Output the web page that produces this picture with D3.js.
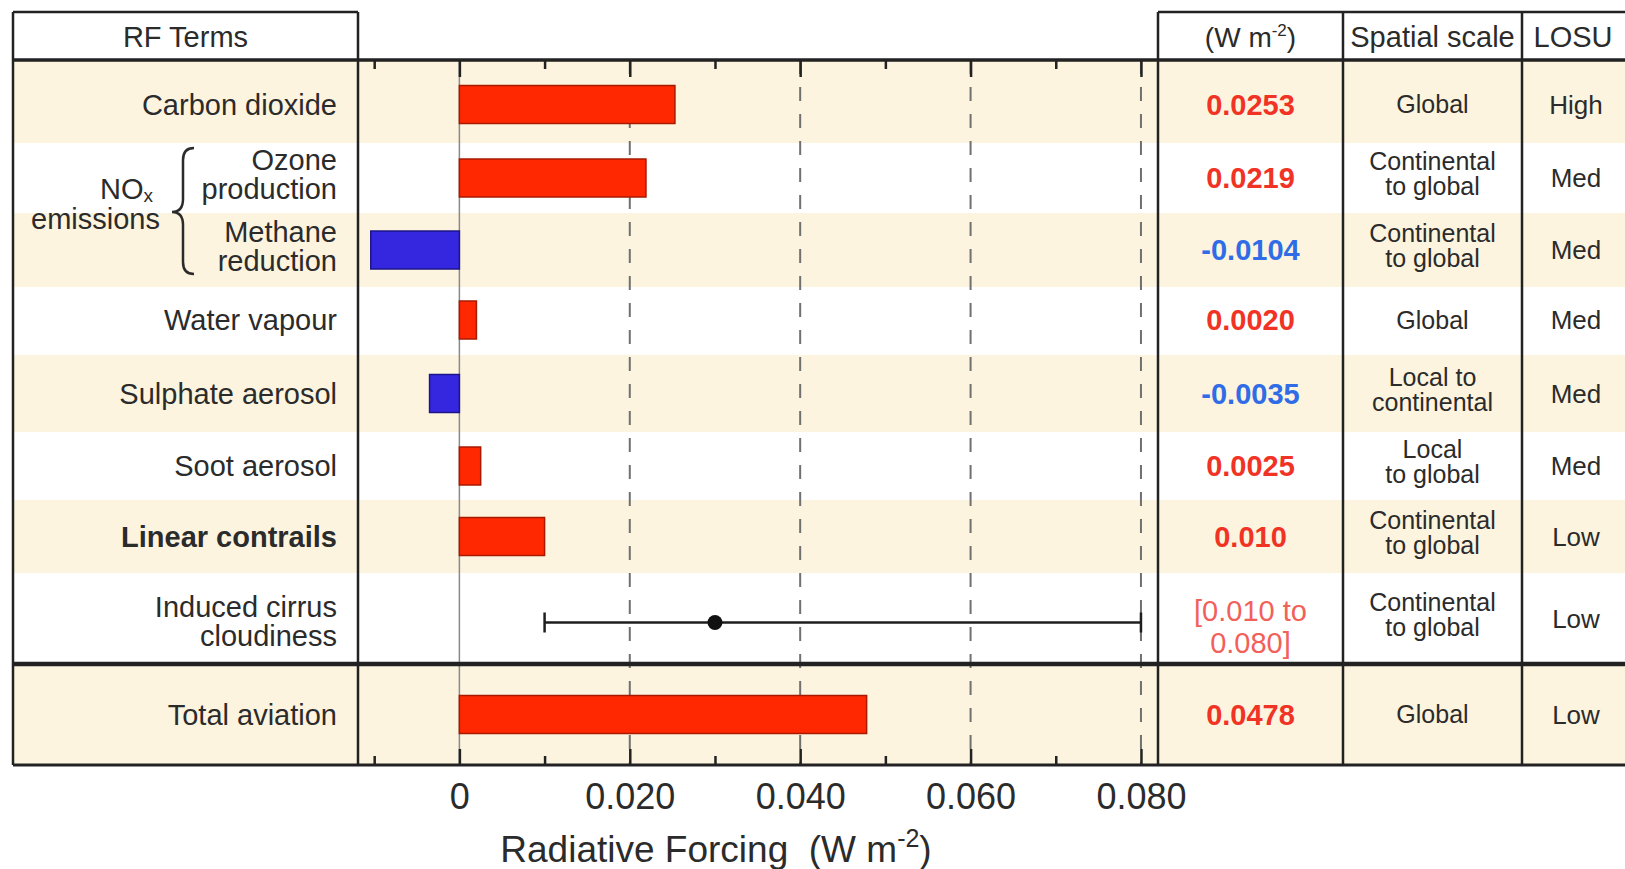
<!DOCTYPE html>
<html lang="en">
  <head>
    <meta charset="UTF-8" />
    <title>Aviation radiative forcing</title>
    <style>
      body { margin: 0; background: #fff; }
      svg text { font-family: "Liberation Sans", Arial, Helvetica, sans-serif; fill: #2b2b2b; }
    </style>
  </head>
  <body>
    <svg id="chart" width="1625" height="869"></svg>

    <script src="https://d3js.org/d3.v7.min.js"></script>
    <script>
      // ---- data ----
      const termLines = [
        ["Carbon dioxide"],
        ["Ozone", "production"],
        ["Methane", "reduction"],
        ["Water vapour"],
        ["Sulphate aerosol"],
        ["Soot aerosol"],
        ["Linear contrails"],
        ["Induced cirrus", "cloudiness"],
        ["Total aviation"],
      ];
      const rfValues = [0.0253, 0.0219, -0.0104, 0.002, -0.0035, 0.0025, 0.01, null, 0.0478];
      const valueLabels = [
        ["0.0253"], ["0.0219"], ["-0.0104"], ["0.0020"], ["-0.0035"],
        ["0.0025"], ["0.010"], ["[0.010 to", "0.080]"], ["0.0478"],
      ];
      const spatialScale = [
        ["Global"],
        ["Continental", "to global"],
        ["Continental", "to global"],
        ["Global"],
        ["Local to", "continental"],
        ["Local", "to global"],
        ["Continental", "to global"],
        ["Continental", "to global"],
        ["Global"],
      ];
      const losu = ["High", "Med", "Med", "Med", "Med", "Med", "Low", "Low", "Low"];
      const cirrusRange = [0.01, 0.08];
      const cirrusBest = 0.03;
      const majorTicks = [0, 0.02, 0.04, 0.06, 0.08];
      const minorTicks = [-0.01, 0.01, 0.03, 0.05, 0.07];

      // ---- layout ----
      const tLeft = 13, tTop = 12, headY = 60, tBottom = 765, tRight = 1640;
      const colLabel = 358, colPlot = 1158, colValue = 1343, colSpatial = 1522;
      const rowHeights = [83, 70, 74, 68, 77, 68, 73, 91, 101];
      const rowShift = [3, 0, 0, -1, 0, 0, 0, 0, 0];
      const rowTops = [headY];
      rowHeights.forEach((h) => rowTops.push(rowTops[rowTops.length - 1] + h));
      const rowMid = (i) => rowTops[i] + rowHeights[i] / 2 + rowShift[i];
      const barH = 38;
      const beige = "#fcf4df";
      const red = "#ff2800", blue = "#3527e0";

      const svg = d3.select("#chart");
      const x = d3.scaleLinear().domain([-0.0119, 0.082]).range([colLabel, colPlot]);

      // row shading
      svg.append("g")
        .selectAll("rect")
        .data(rowHeights)
        .join("rect")
        .attr("x", tLeft)
        .attr("y", (d, i) => rowTops[i])
        .attr("width", tRight - tLeft)
        .attr("height", (d) => d)
        .attr("fill", (d, i) => (i % 2 === 0 ? beige : "#fff"));

      // dashed grid lines
      svg.append("g")
        .selectAll("line")
        .data(majorTicks.filter((d) => d !== 0))
        .join("line")
        .attr("x1", (d) => x(d)).attr("x2", (d) => x(d))
        .attr("y1", headY).attr("y2", tBottom)
        .attr("stroke", "#707070")
        .attr("stroke-width", 2)
        .attr("stroke-dasharray", "14,13");

      // zero line
      svg.append("line")
        .attr("x1", x(0)).attr("x2", x(0))
        .attr("y1", headY).attr("y2", tBottom)
        .attr("stroke", "#8a8a8a")
        .attr("stroke-width", 1.5);

      // bars
      const bars = rfValues.map((v, i) => ({ v, i })).filter((d) => d.v !== null);
      svg.append("g")
        .selectAll("rect")
        .data(bars)
        .join("rect")
        .attr("x", (d) => x(Math.min(0, d.v)))
        .attr("y", (d) => rowMid(d.i) - barH / 2)
        .attr("width", (d) => Math.abs(x(d.v) - x(0)))
        .attr("height", barH)
        .attr("fill", (d) => (d.v < 0 ? blue : red))
        .attr("stroke", (d) => (d.v < 0 ? "#1c1488" : "#a81a00"))
        .attr("stroke-width", 1.5);

      // induced cirrus range
      const ey = rowMid(7) + 4;
      const eg = svg.append("g").attr("stroke", "#1e1e1e").attr("stroke-width", 2.5);
      eg.append("line").attr("x1", x(cirrusRange[0])).attr("x2", x(cirrusRange[1])).attr("y1", ey).attr("y2", ey);
      cirrusRange.forEach((v) => {
        eg.append("line").attr("x1", x(v)).attr("x2", x(v)).attr("y1", ey - 10).attr("y2", ey + 10);
      });
      svg.append("circle").attr("cx", x(cirrusBest)).attr("cy", ey).attr("r", 7.5).attr("fill", "#111");

      // axes (ticks point into the plot)
      const fmt = (d) => (d === 0 ? "0" : d3.format(".3f")(d));
      const styleAxis = (g) => {
        g.select(".domain").remove();
        g.selectAll(".tick line").attr("stroke", "#222").attr("stroke-width", 2.5);
        g.selectAll(".tick text").attr("font-size", 36).attr("fill", "#333");
      };
      svg.append("g").attr("transform", `translate(0,${tBottom})`)
        .call(d3.axisBottom(x).tickValues(majorTicks).tickSize(-16).tickPadding(18).tickFormat(fmt))
        .call(styleAxis);
      svg.append("g").attr("transform", `translate(0,${tBottom})`)
        .call(d3.axisBottom(x).tickValues(minorTicks).tickSize(-9).tickFormat(""))
        .call(styleAxis);
      svg.append("g").attr("transform", `translate(0,${headY})`)
        .call(d3.axisTop(x).tickValues(majorTicks).tickSize(-17).tickFormat(""))
        .call(styleAxis);
      svg.append("g").attr("transform", `translate(0,${headY})`)
        .call(d3.axisTop(x).tickValues(minorTicks).tickSize(-9).tickFormat(""))
        .call(styleAxis);

      // table borders
      const borders = [
        [tLeft, tTop, colLabel, tTop, 2.5],
        [colPlot, tTop, tRight, tTop, 2.5],
        [tLeft, tTop, tLeft, tBottom, 2.5],
        [colLabel, tTop, colLabel, tBottom, 2.5],
        [colPlot, tTop, colPlot, tBottom, 2.5],
        [colValue, tTop, colValue, tBottom, 2.5],
        [colSpatial, tTop, colSpatial, tBottom, 2.5],
        [tLeft, headY, tRight, headY, 3.5],
        [tLeft, rowTops[8], tRight, rowTops[8], 4.5],
        [tLeft, tBottom, tRight, tBottom, 3],
      ];
      svg.append("g")
        .selectAll("line")
        .data(borders)
        .join("line")
        .attr("x1", (d) => d[0]).attr("y1", (d) => d[1])
        .attr("x2", (d) => d[2]).attr("y2", (d) => d[3])
        .attr("stroke", "#222")
        .attr("stroke-width", (d) => d[4]);

      // multi-line text helper
      function block(g, textLines, tx, cy, fs, lh, anchor) {
        const n = textLines.length;
        const t = g.append("text")
          .attr("text-anchor", anchor)
          .attr("font-size", fs);
        textLines.forEach((s, k) => {
          t.append("tspan")
            .attr("x", tx)
            .attr("y", cy + 0.35 * fs + (k - (n - 1) / 2) * lh - (n > 1 ? 4 : 0))
            .text(s);
        });
        return t;
      }

      // headers
      const hg = svg.append("g");
      block(hg, ["RF Terms"], (tLeft + colLabel) / 2, 37, 29, 0, "middle");
      const wm = hg.append("text").attr("x", (colPlot + colValue) / 2).attr("y", 47)
        .attr("text-anchor", "middle").attr("font-size", 28);
      wm.append("tspan").text("(W m");
      wm.append("tspan").attr("dy", -11).attr("font-size", 17).text("-2");
      wm.append("tspan").attr("dy", 11).text(")");
      block(hg, ["Spatial scale"], (colValue + colSpatial) / 2, 37, 29, 0, "middle");
      block(hg, ["LOSU"], 1573, 37, 29, 0, "middle");

      // row labels
      const lg = svg.append("g");
      termLines.forEach((ls, i) => {
        const t = block(lg, ls, 337, rowMid(i) + (i === 7 ? 7 : 0), 29, 29, "end");
        if (i === 6) t.attr("font-weight", "bold");
      });

      // NOx group label and brace
      const nox = lg.append("text").attr("x", 153).attr("y", 199).attr("text-anchor", "end").attr("font-size", 29);
      nox.append("tspan").text("NO");
      nox.append("tspan").attr("dy", 3).attr("font-size", 19).text("x");
      lg.append("text").attr("x", 160).attr("y", 229).attr("text-anchor", "end").attr("font-size", 29).text("emissions");
      lg.append("path")
        .attr("d", "M194,148 Q183,148 183,160 L183,199 Q183,212 172,212 Q183,212 183,225 L183,262 Q183,274 194,274")
        .attr("fill", "none")
        .attr("stroke", "#2b2b2b")
        .attr("stroke-width", 2.5);

      // value column
      const vg = svg.append("g");
      valueLabels.forEach((ls, i) => {
        const v = rfValues[i];
        const t = block(vg, ls, (colPlot + colValue) / 2, rowMid(i) + (ls.length > 1 ? 12 : 0), 29, 32, "middle");
        if (v === null) {
          t.style("fill", "#f2605a").attr("font-weight", "normal");
        } else {
          t.style("fill", v < 0 ? "#2f6ce6" : "#f03325").attr("font-weight", "bold");
        }
      });

      // spatial scale and LOSU columns
      const sg = svg.append("g");
      spatialScale.forEach((ls, i) => {
        block(sg, ls, (colValue + colSpatial) / 2, rowMid(i), 25, 25, "middle");
      });
      losu.forEach((s, i) => {
        block(sg, [s], 1576, rowMid(i), 26, 0, "middle");
      });

      // axis title
      const at = svg.append("text")
        .attr("x", 716).attr("y", 862)
        .attr("text-anchor", "middle")
        .attr("font-size", 37)
        .attr("fill", "#333")
        .style("white-space", "pre");
      at.append("tspan").text("Radiative Forcing  (W m");
      at.append("tspan").attr("dy", -15).attr("font-size", 25).text("-2");
      at.append("tspan").attr("dy", 15).text(")");
    </script>
  </body>
</html>
